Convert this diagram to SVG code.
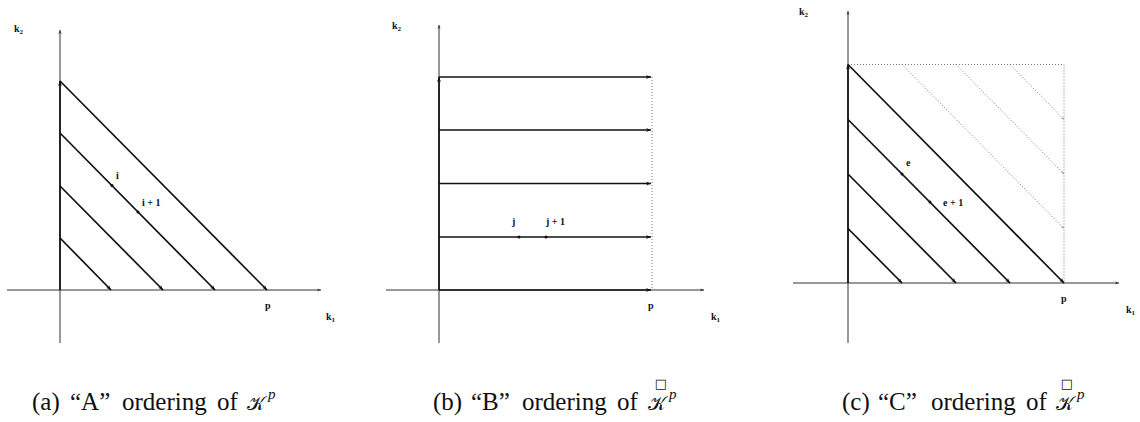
<svg xmlns="http://www.w3.org/2000/svg" width="1140" height="422" viewBox="0 0 1140 422">
<defs>
<style>
.axis{stroke:#333;stroke-width:1;fill:none}
.thick{stroke:#111;stroke-width:1.7;fill:none}
.dot{stroke:#777;stroke-width:1;stroke-dasharray:1 2;fill:none}
.lbl{font-family:"Liberation Serif",serif;font-weight:bold;font-size:10px;fill:#111}
.sub{font-size:7px}
.cap{font-family:"Liberation Serif",serif;font-size:25px;fill:#111}
.kc{font-size:19px}
.sup{font-size:15px;font-style:italic}
.pt{fill:#111}
</style>
<marker id="ah" viewBox="0 0 10 10" refX="10" refY="5" markerWidth="7" markerHeight="5" markerUnits="userSpaceOnUse" orient="auto"><path d="M0,1 L10,5 L0,9 L3,5 z" fill="#111"/></marker>
<marker id="ahs" viewBox="0 0 10 10" refX="10" refY="5" markerWidth="5" markerHeight="4" markerUnits="userSpaceOnUse" orient="auto"><path d="M0,1 L10,5 L0,9 L3,5 z" fill="#333"/></marker>
<marker id="ahd" viewBox="0 0 10 10" refX="10" refY="5" markerWidth="4" markerHeight="3" markerUnits="userSpaceOnUse" orient="auto"><path d="M0,1 L10,5 L0,9 L3,5 z" fill="#888"/></marker>
</defs>

<g id="connectors">
<!-- Panel A -->
<line class="axis" x1="60" y1="343" x2="60" y2="30" marker-end="url(#ahs)"/>
<line class="axis" x1="7" y1="290" x2="321" y2="290" marker-end="url(#ahs)"/>
<line class="thick" x1="60" y1="290" x2="60" y2="81" marker-end="url(#ah)"/>
<line class="thick" x1="60" y1="238" x2="111" y2="290" marker-end="url(#ah)"/>
<line class="thick" x1="60" y1="186" x2="163" y2="290" marker-end="url(#ah)"/>
<line class="thick" x1="60" y1="133" x2="215" y2="290" marker-end="url(#ah)"/>
<line class="thick" x1="60" y1="81" x2="267" y2="290" marker-end="url(#ah)"/>

<!-- Panel B -->
<line class="axis" x1="439" y1="343" x2="439" y2="25" marker-end="url(#ahs)"/>
<line class="axis" x1="386" y1="290" x2="704" y2="290" marker-end="url(#ahs)"/>
<line class="dot" x1="652" y1="77" x2="652" y2="290"/>
<line class="thick" x1="439" y1="290" x2="439" y2="77" marker-end="url(#ah)"/>
<line class="thick" x1="439" y1="77" x2="651" y2="77" marker-end="url(#ah)"/>
<line class="thick" x1="439" y1="130" x2="651" y2="130" marker-end="url(#ah)"/>
<line class="thick" x1="439" y1="183.5" x2="651" y2="183.5" marker-end="url(#ah)"/>
<line class="thick" x1="439" y1="237" x2="651" y2="237" marker-end="url(#ah)"/>
<line class="thick" x1="439" y1="290" x2="651" y2="290" marker-end="url(#ah)"/>

<!-- Panel C -->
<line class="axis" x1="848" y1="343" x2="848" y2="11" marker-end="url(#ahs)"/>
<line class="axis" x1="793" y1="283" x2="1119" y2="283" marker-end="url(#ahs)"/>
<polyline class="dot" points="848,64.5 1064,64.5 1064,283"/>
<line class="dot" x1="902" y1="64.5" x2="1064" y2="228.5" marker-end="url(#ahd)"/>
<line class="dot" x1="956" y1="64.5" x2="1064" y2="174" marker-end="url(#ahd)"/>
<line class="dot" x1="1010" y1="64.5" x2="1064" y2="119.5" marker-end="url(#ahd)"/>
<line class="thick" x1="848" y1="283" x2="848" y2="64.5" marker-end="url(#ah)"/>
<line class="thick" x1="848" y1="228.5" x2="902" y2="283" marker-end="url(#ah)"/>
<line class="thick" x1="848" y1="174" x2="956" y2="283" marker-end="url(#ah)"/>
<line class="thick" x1="848" y1="119.5" x2="1010" y2="283" marker-end="url(#ah)"/>
<line class="thick" x1="848" y1="64.5" x2="1064" y2="283" marker-end="url(#ah)"/>
</g>

<g id="panelA">
<text class="lbl" x="14" y="32">k<tspan class="sub" dy="2">2</tspan></text>
<text class="lbl" x="326" y="320">k<tspan class="sub" dy="2">1</tspan></text>
<text class="lbl" x="265" y="309">p</text>
<circle class="pt" cx="112" cy="185.5" r="1.5"/>
<text class="lbl" x="116" y="179">i</text>
<circle class="pt" cx="138" cy="212" r="1.5"/>
<text class="lbl" x="142" y="206">i + 1</text>
</g>

<g id="panelB">
<text class="lbl" x="392" y="29">k<tspan class="sub" dy="2">2</tspan></text>
<text class="lbl" x="711" y="320">k<tspan class="sub" dy="2">1</tspan></text>
<text class="lbl" x="648" y="309">p</text>
<circle class="pt" cx="519" cy="237" r="1.5"/>
<text class="lbl" x="512" y="225">j</text>
<circle class="pt" cx="546" cy="237" r="1.5"/>
<text class="lbl" x="546" y="225">j + 1</text>
</g>

<g id="panelC">
<text class="lbl" x="799" y="15">k<tspan class="sub" dy="2">2</tspan></text>
<text class="lbl" x="1126" y="313">k<tspan class="sub" dy="2">1</tspan></text>
<text class="lbl" x="1061" y="302">p</text>
<circle class="pt" cx="902" cy="174" r="1.5"/>
<text class="lbl" x="906" y="166">e</text>
<circle class="pt" cx="930" cy="202" r="1.5"/>
<text class="lbl" x="943" y="206">e + 1</text>
</g>

<g id="captionA">
<text class="cap" y="410"><tspan x="32">(a)</tspan><tspan x="70">“A”</tspan><tspan x="122">ordering</tspan><tspan x="217">of</tspan><tspan x="247" class="kc">𝒦</tspan></text>
<text class="cap sup" x="268" y="399">p</text>
</g>
<g id="captionB">
<text class="cap" y="410"><tspan x="433">(b)</tspan><tspan x="471">“B”</tspan><tspan x="522">ordering</tspan><tspan x="617">of</tspan><tspan x="648" class="kc">𝒦</tspan></text>
<text class="cap sup" x="669" y="399">p</text>
<text x="661" y="388" text-anchor="middle" font-family="DejaVu Sans, sans-serif" font-size="13" fill="#111">□</text>
</g>
<g id="captionC">
<text class="cap" y="410"><tspan x="842">(c)</tspan><tspan x="878">“C”</tspan><tspan x="931">ordering</tspan><tspan x="1026">of</tspan><tspan x="1056" class="kc">𝒦</tspan></text>
<text class="cap sup" x="1077" y="399">p</text>
<text x="1067" y="388" text-anchor="middle" font-family="DejaVu Sans, sans-serif" font-size="13" fill="#111">□</text>
</g>
</svg>
